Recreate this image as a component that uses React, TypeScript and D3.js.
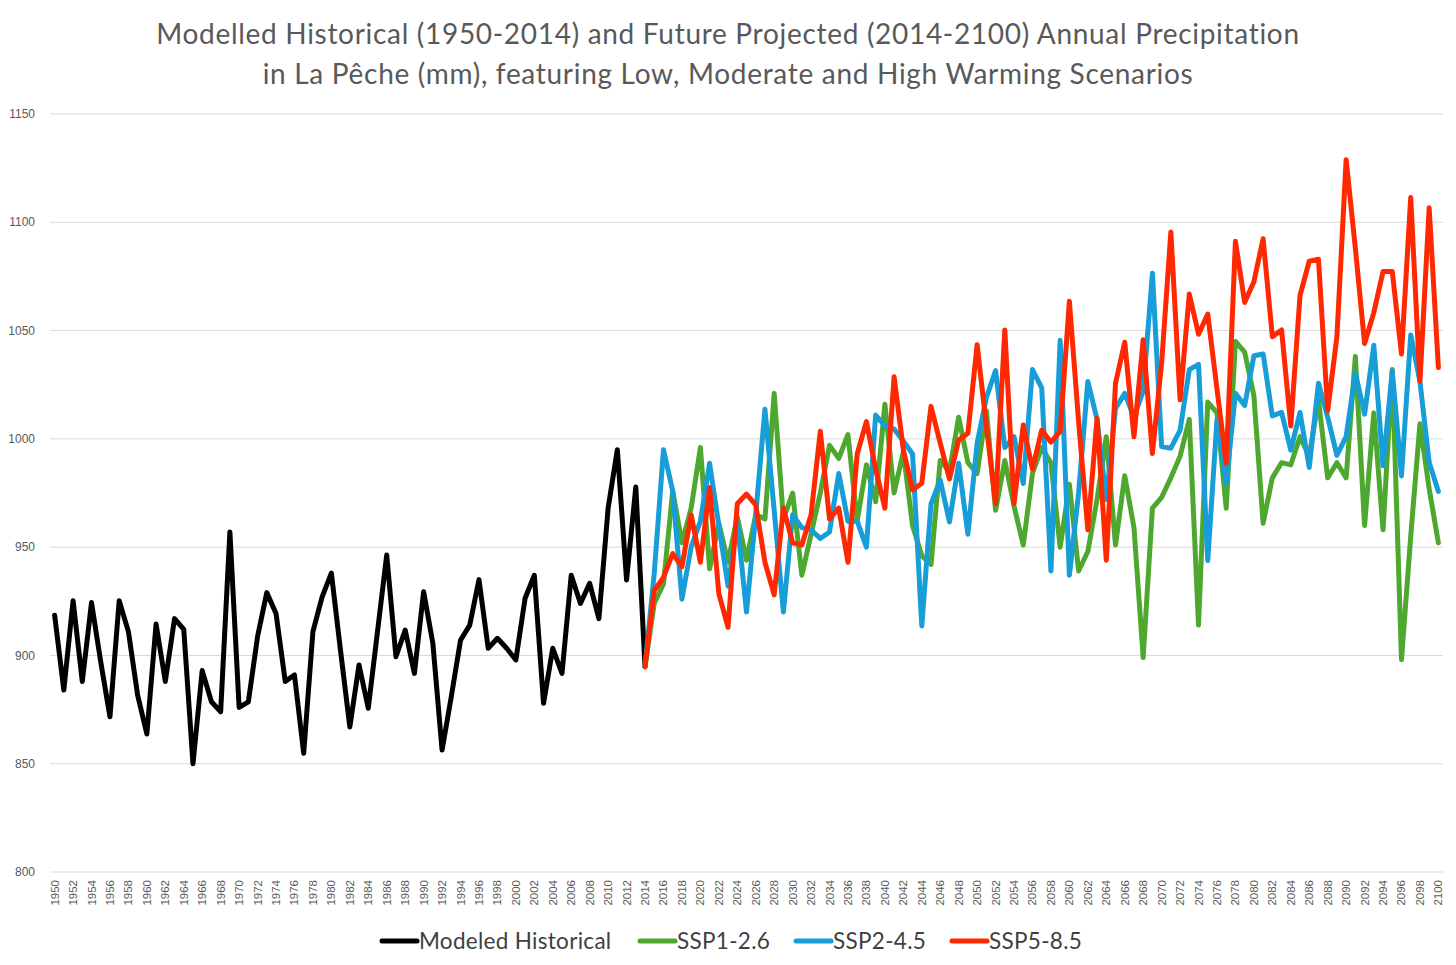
import React from "react";
import * as d3 from "d3";

const histStart = 1950;
const futureStart = 2014;

const historical = [
  918.6, 884, 925.3, 888, 924.4, 897, 871.7, 925.3, 911, 881.7,
  863.7, 914.5, 888, 917, 912, 850, 893, 878.6, 874, 957,
  876, 878.6, 908.7, 929, 919.4, 888, 891, 854.8, 911, 927,
  938, 902, 867, 895.6, 875.6, 911, 946.4, 899.4, 911.7, 891.7,
  929.4, 905.6, 856.3, 881, 907, 914, 935, 903.3, 907.9, 903.3,
  897.9, 926.4, 937, 877.9, 903.3, 891.7, 937, 924, 933.3, 917,
  968, 995, 934.8, 977.8, 894.8,
];

const ssp126 = [
  894.8, 924, 933, 976, 952, 968, 996, 940, 961, 943,
  964, 944, 965, 963, 1021, 963, 975, 937, 956, 975,
  997, 991, 1002, 962, 988, 971, 1016, 975, 994, 960,
  946, 942, 990, 985, 1010, 989, 984, 1013, 967, 990,
  969, 951, 984, 996, 989, 950, 979, 939, 948, 972,
  1001, 951, 983, 959, 899, 968, 973, 982, 992, 1009,
  914, 1017, 1012, 968, 1045, 1040, 1020, 961, 982, 989,
  988, 1001, 992, 1018, 982, 989, 982, 1038, 960, 1012,
  958, 1032, 898, 955, 1007, 977, 952,
];

const ssp245 = [
  894.8, 938, 995, 976, 926, 950, 962, 988.7, 960, 932,
  962, 920, 965, 1013.7, 967, 920, 965, 959, 958, 954,
  957, 984, 962, 962, 950, 1011, 1006, 1004.5, 999, 993,
  913.6, 970, 981, 961.6, 988.7, 956, 998, 1019, 1031.5, 996,
  1001, 979.4, 1032, 1023.5, 939, 1045.5, 937, 975, 1026.5, 1009,
  972, 1014, 1021, 1010, 1022, 1076.5, 996.4, 995.7, 1004, 1032,
  1034.4, 943.8, 1009, 979.4, 1021, 1015.4, 1038.4, 1039.2, 1010.6, 1012.2,
  994.8, 1012.2, 986.8, 1025.7, 1010, 992.4, 1001, 1030.5, 1011.4, 1043.2,
  987.6, 1031.3, 982.9, 1048, 1026.5, 989.2, 975.7,
];

const ssp585 = [
  894.8, 930, 936, 947, 941, 965, 943, 977.5, 928.5, 913,
  970, 974.5, 969.5, 943, 928, 968, 952, 951, 965, 1003.5,
  963, 968, 943, 993, 1008, 986, 968, 1028.7, 995, 976.4,
  979.5, 1015, 998, 981.5, 999.5, 1002.6, 1043.5, 1006, 970, 1050.3,
  970, 1006.4, 986, 1004, 998.5, 1003.5, 1063.5, 1008, 958, 1009.5,
  944, 1025.7, 1044.6, 1001, 1045.8, 993.2, 1035, 1095.5, 1018, 1066.9,
  1048.3, 1057.6, 1023, 988.7, 1091.2, 1063, 1072.5, 1092.4, 1047.2, 1050.3,
  1005.9, 1066.2, 1082, 1082.9, 1013, 1047.2, 1128.9, 1088, 1044, 1058.3,
  1077.3, 1077.3, 1039.2, 1111.4, 1026.5, 1106.7, 1032.9,
];

const yTicks = [800, 850, 900, 950, 1000, 1050, 1100, 1150];
const years = d3.range(1950, 2101);

const titleLines = [
  "Modelled Historical (1950-2014) and Future Projected (2014-2100) Annual Precipitation",
  "in La Pêche (mm), featuring Low, Moderate and High Warming Scenarios",
];

const seriesNames = ["Modeled Historical", "SSP1-2.6", "SSP2-4.5", "SSP5-8.5"];
const seriesColors = ["#000000", "#4ea72e", "#179ed9", "#ff2800"];

export default function App() {
  const W = 1456;
  const H = 965;
  const x = d3.scalePoint<number>().domain(years).range([50, 1443]).padding(0.5);
  const y = d3.scaleLinear().domain([800, 1150]).range([872, 114]);

  const line = d3
    .line<[number, number]>()
    .x((d) => x(d[0]) as number)
    .y((d) => y(d[1]));

  const toPts = (arr: number[], start: number): [number, number][] =>
    arr.map((v, i) => [start + i, v]);

  const series = [
    toPts(historical, histStart),
    toPts(ssp126, futureStart),
    toPts(ssp245, futureStart),
    toPts(ssp585, futureStart),
  ];

  const legendItems = [
    { lx: 382, tx: 419 },
    { lx: 640, tx: 677 },
    { lx: 796, tx: 833 },
    { lx: 952, tx: 989 },
  ];

  const sans = "'Liberation Sans', Arial, sans-serif";
  const titleFont = "Lato, 'Open Sans', sans-serif";

  return (
    <svg
      width={W}
      height={H}
      viewBox={`0 0 ${W} ${H}`}
      style={{ position: "absolute", left: 0, top: 0, background: "#fff" }}
    >
      <rect x={0} y={0} width={W} height={H} fill="#fff" />
      {titleLines.map((t, i) => (
        <text
          key={i}
          x={728}
          y={44 + i * 40}
          textAnchor="middle"
          fontFamily={titleFont}
          fontSize={28}
          letterSpacing={0.7}
          fill="#595959"
        >
          {t}
        </text>
      ))}
      {yTicks.map((t) => (
        <g key={t}>
          <line x1={50} x2={1443} y1={y(t)} y2={y(t)} stroke="#d9d9d9" strokeWidth={1} />
          <text
            x={35}
            y={y(t)}
            dy="0.35em"
            textAnchor="end"
            fontFamily={sans}
            fontSize={12}
            fill="#595959"
          >
            {t}
          </text>
        </g>
      ))}
      {years
        .filter((yr) => (yr - 1950) % 2 === 0)
        .map((yr) => (
          <text
            key={yr}
            transform={`translate(${(x(yr) as number) + 4},${880}) rotate(-90)`}
            textAnchor="end"
            fontFamily={sans}
            fontSize={11.5}
            fill="#595959"
          >
            {yr}
          </text>
        ))}
      {series.map((pts, i) => (
        <path
          key={i}
          d={line(pts) || ""}
          fill="none"
          stroke={seriesColors[i]}
          strokeWidth={5}
          strokeLinejoin="round"
          strokeLinecap="round"
        />
      ))}
      {legendItems.map((it, i) => (
        <g key={i}>
          <line
            x1={it.lx}
            x2={it.tx - 2}
            y1={941}
            y2={941}
            stroke={seriesColors[i]}
            strokeWidth={5}
            strokeLinecap="round"
          />
          <text
            x={it.tx}
            y={941}
            dy="0.36em"
            fontFamily={titleFont}
            fontSize={22.5}
            letterSpacing={0.3}
            fill="#404040"
          >
            {seriesNames[i]}
          </text>
        </g>
      ))}
    </svg>
  );
}
